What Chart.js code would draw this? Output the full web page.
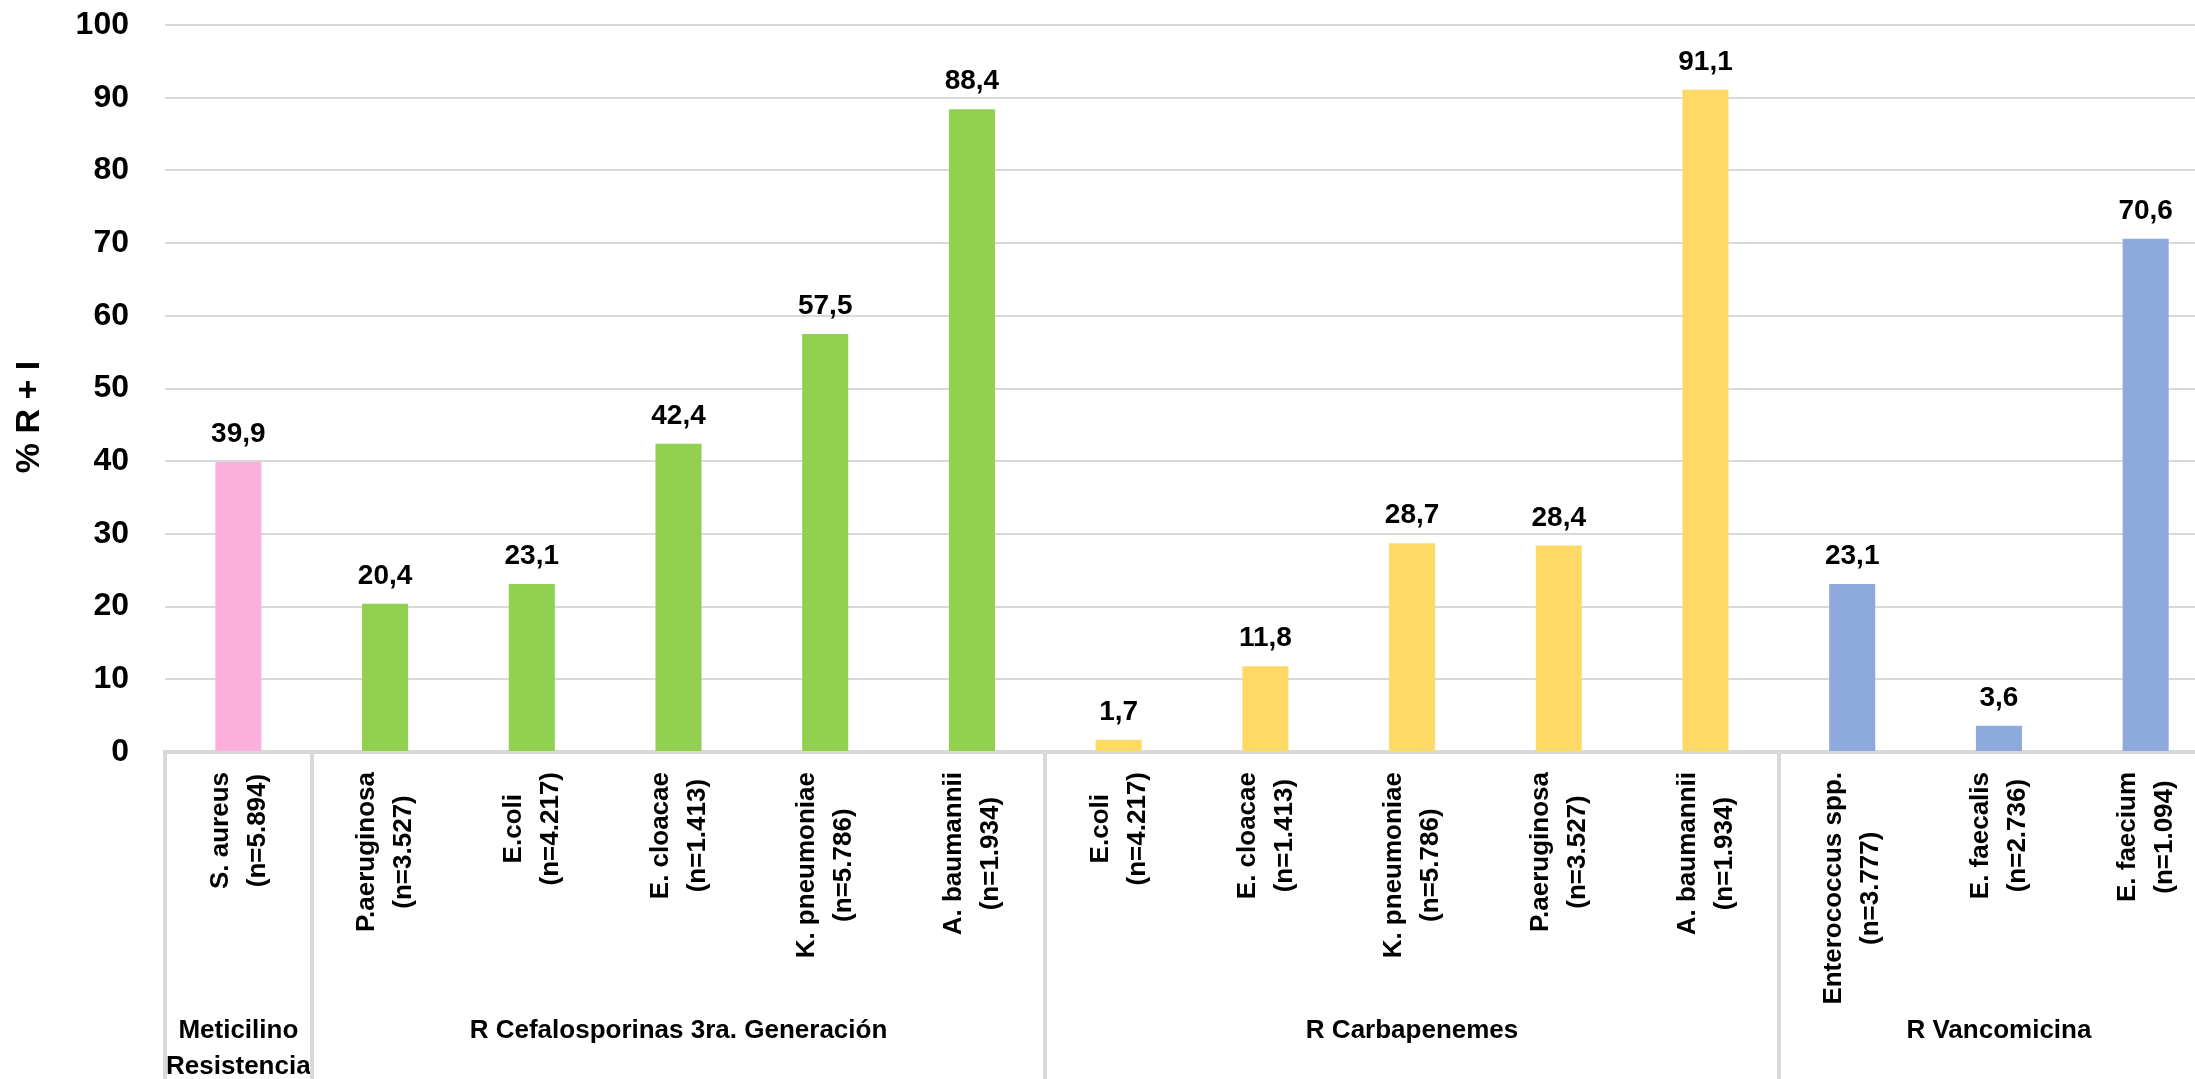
<!DOCTYPE html>
<html><head><meta charset="utf-8">
<script src="https://cdn.jsdelivr.net/npm/chart.js@4"></script>
<style>html,body{margin:0;padding:0;overflow:hidden;background:#fff;} canvas{display:block}</style>
</head><body>
<canvas id="c"></canvas>
<script>
// ---- data ----
const organisms = ["S. aureus","P.aeruginosa","E.coli","E. cloacae","K. pneumoniae","A. baumannii",
  "E.coli","E. cloacae","K. pneumoniae","P.aeruginosa","A. baumannii",
  "Enterococcus spp.","E. faecalis","E. faecium"];
const sampleSizes = ["(n=5.894)","(n=3.527)","(n=4.217)","(n=1.413)","(n=5.786)","(n=1.934)",
  "(n=4.217)","(n=1.413)","(n=5.786)","(n=3.527)","(n=1.934)",
  "(n=3.777)","(n=2.736)","(n=1.094)"];
const values = [39.9,20.4,23.1,42.4,57.5,88.4,1.7,11.8,28.7,28.4,91.1,23.1,3.6,70.6];
const groupNames = [["Meticilino","Resistencia"],["R Cefalosporinas 3ra. Generación"],["R Carbapenemes"],["R Vancomicina"]];
const groupSizes = [1,5,5,3];
const groupColors = ["#FBB1DC","#92D050","#FFD966","#8EA9DB"];
const yAxisTitle = "% R + I";
const yMin = 0, yMax = 100, yStep = 10;

// ---- helpers ----
const FONT = '"Liberation Sans", Arial, sans-serif';
const barColors = [];
groupSizes.forEach((n,g)=>{ for(let k=0;k<n;k++) barColors.push(groupColors[g]); });
const W = 2219, H = 1079;
const cv = document.getElementById('c');
cv.width = W; cv.height = H; cv.style.width = W+'px'; cv.style.height = H+'px';

const overlay = {
  id: 'overlay',
  afterDatasetsDraw(chart){
    const ctx = chart.ctx, xs = chart.scales.x;
    const meta = chart.getDatasetMeta(0);
    const axisY = chart.chartArea.bottom;
    ctx.save();
    ctx.fillStyle = '#000';
    // value labels
    ctx.font = 'bold 28px ' + FONT;
    ctx.textAlign = 'center'; ctx.textBaseline = 'alphabetic';
    meta.data.forEach((bar,i)=>{
      ctx.fillText(values[i].toFixed(1).replace('.', ','), bar.x, bar.y - 20);
    });
    // category labels (rotated, two centered lines, anchored at top)
    ctx.font = 'bold 26px ' + FONT;
    organisms.forEach((name,i)=>{
      const cx = xs.getPixelForValue(i);
      const w = Math.max(ctx.measureText(name).width, ctx.measureText(sampleSizes[i]).width);
      ctx.save();
      ctx.translate(cx, axisY + 20);
      ctx.rotate(-Math.PI/2);
      ctx.textAlign = 'center'; ctx.textBaseline = 'middle';
      ctx.fillText(name, -w/2, -18);
      ctx.fillText(sampleSizes[i], -w/2, 19);
      ctx.restore();
    });
    // group separators and group labels
    ctx.strokeStyle = '#D9D9D9'; ctx.lineWidth = 4;
    const boundary = (k)=> k===0 ? xs.left : (xs.getPixelForValue(k-1)+xs.getPixelForValue(k))/2;
    let start = 0;
    ctx.font = 'bold 26px ' + FONT;
    ctx.textAlign = 'center'; ctx.textBaseline = 'middle';
    groupSizes.forEach((n,g)=>{
      const bx = Math.round(boundary(start));
      ctx.beginPath(); ctx.moveTo(bx, axisY); ctx.lineTo(bx, H); ctx.stroke();
      const mid = (xs.getPixelForValue(start) + xs.getPixelForValue(start+n-1))/2;
      groupNames[g].forEach((line,li)=> ctx.fillText(line, mid, 1031 + li*36));
      start += n;
    });
    // y axis title
    ctx.font = 'bold 34px ' + FONT;
    ctx.save();
    ctx.translate(30, 417);
    ctx.rotate(-Math.PI/2);
    ctx.fillText(yAxisTitle, 0, 0);
    ctx.restore();
    ctx.restore();
  }
};

new Chart(cv, {
  type: 'bar',
  data: {
    labels: organisms.map((o,i)=>[o, sampleSizes[i]]),
    datasets: [{ data: values, backgroundColor: barColors, borderWidth: 0,
      barPercentage: 0.314, categoryPercentage: 1 }]
  },
  options: {
    responsive: false, animation: false, devicePixelRatio: 1,
    layout: { padding: { top: 25, left: 0, right: 0, bottom: 0 } },
    plugins: { legend: { display: false }, tooltip: { enabled: false } },
    scales: {
      x: {
        grid: { display: false },
        border: { display: true, color: '#D9D9D9', width: 4 },
        ticks: { display: false },
        afterFit(s){ s.height = H - 752; s.paddingLeft = 0; s.paddingRight = 0; }
      },
      y: {
        min: yMin, max: yMax,
        grid: { color: '#D9D9D9', lineWidth: 2, drawTicks: false },
        border: { display: false },
        ticks: { stepSize: yStep, padding: 36, color: '#000', font: { family: FONT, size: 32, weight: 'bold' } },
        afterFit(s){ s.width = 165; s.paddingTop = 0; s.paddingBottom = 0; }
      }
    }
  },
  plugins: [overlay]
});
</script>
</body></html>
